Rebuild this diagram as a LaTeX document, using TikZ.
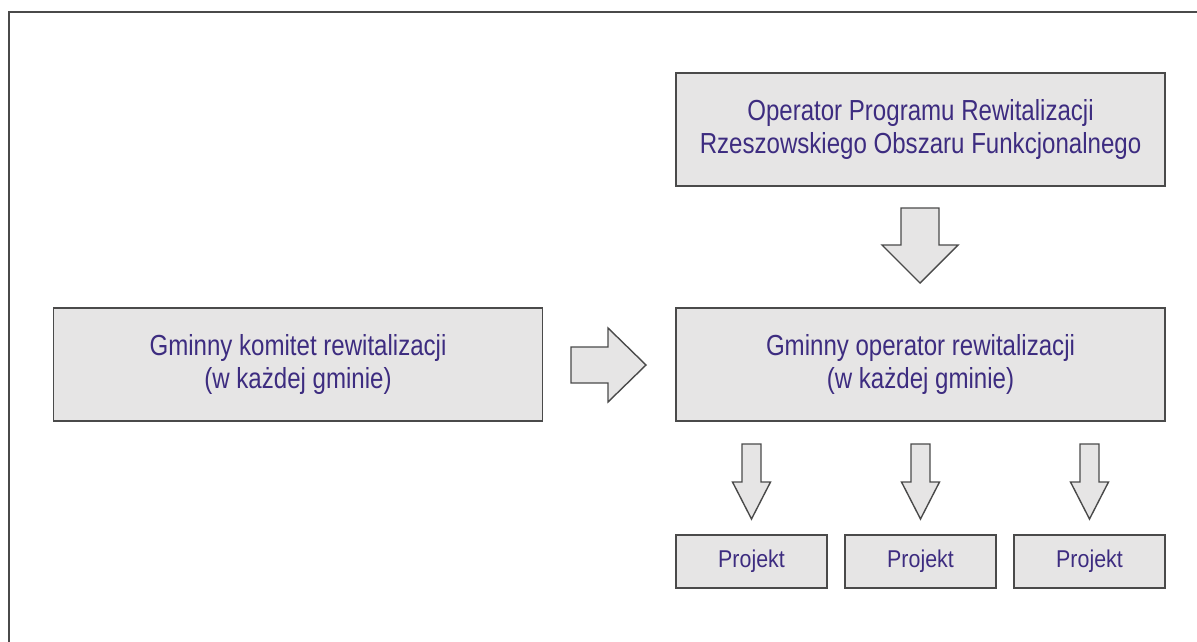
\documentclass[tikz,border=0pt]{standalone}
\usepackage{fontspec}
\setmainfont{Liberation Sans}
\newfontfamily\condfont[FakeStretch=0.83]{Liberation Sans}
\newfontfamily\projfont[FakeStretch=0.88]{Liberation Sans}
\definecolor{boxfill}{HTML}{E6E5E5}
\definecolor{boxline}{HTML}{4A4A4A}
\definecolor{txt}{HTML}{3D2C80}
\tikzset{
  box/.style={draw=boxline, fill=boxfill, line width=1.6pt, inner sep=0pt,
    align=center, text=txt, font=\condfont\fontsize{29}{33}\selectfont},
  bigbox/.style={box, minimum width=489pt, minimum height=113pt},
  projbox/.style={box, minimum width=151pt, minimum height=53pt, font=\projfont\fontsize{24.3}{28}\selectfont},
  blockarrow/.style={draw=boxline, fill=boxfill, line width=1.4pt, line join=miter},
  frameline/.style={draw=boxline, line width=2pt}
}
\begin{document}
\begin{tikzpicture}[x=1pt,y=-1pt]
\useasboundingbox (0,0) rectangle (1197,642);
\draw[frameline] (9,660) -- (9,12) -- (1210,12);
\node[bigbox] (op) at (920.5,129.5) {Operator Programu Rewitalizacji\\Rzeszowskiego Obszaru Funkcjonalnego};
\node[bigbox] (gor) at (920.5,364.5) {Gminny operator rewitalizacji\\(w każdej gminie)};
\node[bigbox] (gkr) at (298,364.5) {Gminny komitet rewitalizacji\\(w każdej gminie)};
\node[projbox] (p1) at (751.5,561.5) {Projekt};
\node[projbox] (p2) at (920.5,561.5) {Projekt};
\node[projbox] (p3) at (1089.5,561.5) {Projekt};
% block arrows
\draw[blockarrow] (901,208) -- (939,208) -- (939,245) -- (958,245) -- (920,283) -- (882,245) -- (901,245) -- cycle;
\draw[blockarrow] (571,347) -- (608,347) -- (608,328) -- (646,365) -- (608,402) -- (608,383) -- (571,383) -- cycle;
\foreach \c in {751.5,920.5,1089.5}{
  \draw[blockarrow] (\c-9.5,444) -- (\c+9.5,444) -- (\c+9.5,482) -- (\c+19,482) -- (\c,519) -- (\c-19,482) -- (\c-9.5,482) -- cycle;
}
\end{tikzpicture}
\end{document}
